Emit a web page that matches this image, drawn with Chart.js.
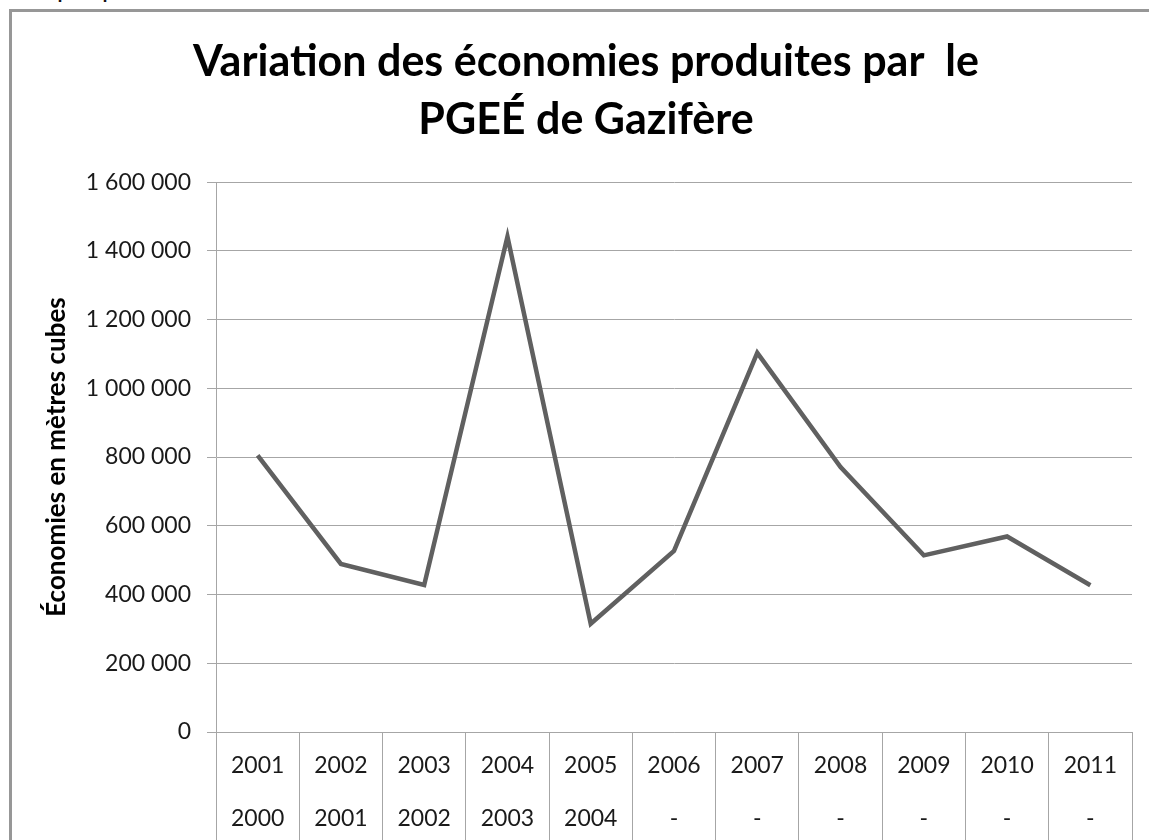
<!DOCTYPE html>
<html lang="fr">
<head>
<meta charset="utf-8">
<script src="https://cdn.jsdelivr.net/npm/chart.js@4.4.1/dist/chart.umd.min.js"></script>
<style>
  html, body { margin: 0; padding: 0; background: #fff; overflow: hidden; }
  #caption {
    position: absolute; left: 12px; top: -28px;
    font: 27px "Liberation Sans", Arial, sans-serif; color: #111;
  }
  #frame {
    position: absolute; left: 9px; top: 9px; width: 1160px; height: 860px;
    border: 3px solid #979797;
  }
  #chart { position: absolute; left: 0; top: 0; }
</style>
</head>
<body>
<div id="caption">Graphique 1</div>
<div id="frame"></div>
<canvas id="chart" width="1149" height="840"></canvas>
<script>
// axis rows: end year / start year
const yearsTop = ["2001", "2002", "2003", "2004", "2005", "2006", "2007", "2008", "2009", "2010", "2011"];
const yearsBottom = ["2000", "2001", "2002", "2003", "2004", "-", "-", "-", "-", "-", "-"];
// savings in cubic metres
const savings = [805000, 489000, 428000, 1441000, 315000, 527000, 1103000, 771000, 514000, 569000, 427000];

const titleLines = ["Variation des économies produites par  le", "PGEÉ de Gazifère"];
const yTitle = "Économies en mètres cubes";

let labels = yearsTop.map((y, i) => [y, yearsBottom[i]]);

const gridGray = "#a6a6a6";
const fmt = (v) => String(v).replace(/\B(?=(\d{3})+(?!\d))/g, " ");

let data = {
  labels: labels,
  datasets: [
    {
      label: yTitle,
      data: savings,
      borderColor: "#606060",
      borderWidth: 4.5,
      borderJoinStyle: "miter",
      pointRadius: 0,
      tension: 0,
      fill: false,
    },
  ],
};

let options = {
  responsive: false,
  animation: false,
  layout: { padding: { left: 40, right: 17, top: 0, bottom: 0 } },
  scales: {
    x: {
      offset: true,
      grid: {
        offset: true,
        drawOnChartArea: false,
        tickLength: 110,
        color: gridGray,
        lineWidth: 1,
      },
      border: { display: true, color: gridGray, width: 1 },
      ticks: {
        color: "#1a1a1a",
        padding: -103,
        maxRotation: 0,
        autoSkip: false,
        font: { family: "Lato", size: 23, lineHeight: 2.3 },
      },
      afterFit: (scale) => { scale.height = 108; },
    },
    y: {
      min: 0,
      max: 1600000,
      grid: { color: gridGray, lineWidth: 1, tickLength: 9 },
      border: { display: true, color: gridGray, width: 1 },
      ticks: {
        stepSize: 200000,
        padding: 16,
        color: "#1a1a1a",
        font: { family: "Lato", size: 23 },
        callback: (v) => fmt(v),
      },
      title: {
        display: true,
        text: yTitle,
        color: "#000",
        padding: { top: 1, bottom: 0 },
        font: { family: "Lato", size: 26, weight: "bold" },
      },
      afterFit: (scale) => { scale.width = 176; },
    },
  },
  plugins: {
    legend: { display: false },
    tooltip: { enabled: false },
    title: {
      display: true,
      text: titleLines,
      color: "#000",
      padding: { top: 33, bottom: 33 },
      font: { family: "Lato", size: 43, weight: "bold", lineHeight: 1.35 },
    },
  },
};

const ctx = document.getElementById("chart").getContext("2d");
const myChart = new Chart(ctx, {
  type: "line",
  data: data,
  options: options,
});
</script>
</body>
</html>
